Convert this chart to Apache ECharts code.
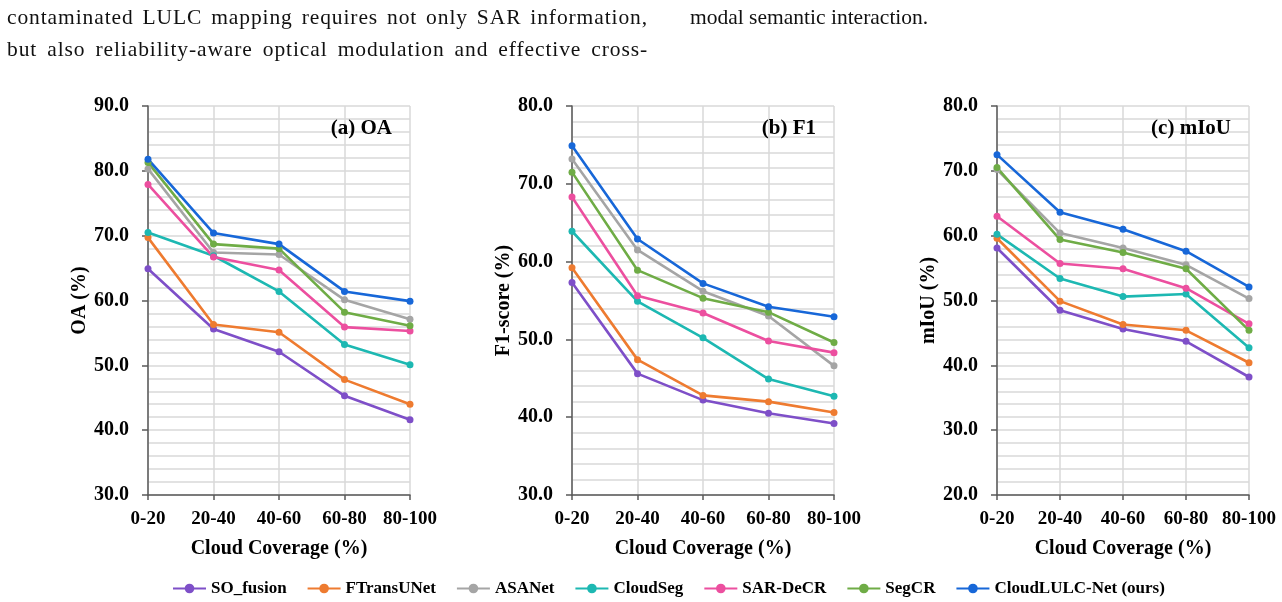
<!DOCTYPE html>
<html>
<head>
<meta charset="utf-8">
<script src="https://cdn.jsdelivr.net/npm/echarts@6/dist/echarts.min.js"></script>
<style>
  html, body { margin: 0; padding: 0; background: #fff; }
  #chart { position: absolute; left: 0; top: 0; width: 1282px; height: 602px; }
  .txt { position: absolute; font-family: "Liberation Serif", "Times New Roman", serif; font-size: 21.5px; line-height: 24px; color: #111; white-space: nowrap; z-index: 5; }
  .just { width: 641px; text-align: justify; text-align-last: justify; letter-spacing: 0.9px; }
</style>
</head>
<body>
<div id="chart"></div>
<div class="txt just" style="left:7px; top:5px;">contaminated LULC mapping requires not only SAR information,</div>
<div class="txt just" style="left:7px; top:37px;">but also reliability-aware optical modulation and effective cross-</div>
<div class="txt" style="left:690px; top:5px;">modal semantic interaction.</div>
<script>
// ---- data ----
const categories = ['0-20', '20-40', '40-60', '60-80', '80-100'];
const methods = ['SO_fusion', 'FTransUNet', 'ASANet', 'CloudSeg', 'SAR-DeCR', 'SegCR', 'CloudLULC-Net (ours)'];
const colors = ['#7E4FC8', '#EE7B30', '#A5A5A5', '#1DB8B2', '#EC4F9F', '#6FAC46', '#1767D8'];

// OA (%)
const OA_SO_fusion  = [64.9, 55.6, 52.1, 45.3, 41.6];
const OA_FTransUNet = [69.7, 56.3, 55.1, 47.8, 44.0];
const OA_ASANet     = [80.3, 67.4, 67.1, 60.1, 57.1];
const OA_CloudSeg   = [70.5, 66.9, 61.4, 53.2, 50.1];
const OA_SARDeCR    = [77.9, 66.7, 64.7, 55.9, 55.3];
const OA_SegCR      = [81.3, 68.7, 68.0, 58.2, 56.1];
const OA_CloudLULC  = [81.8, 70.4, 68.7, 61.4, 59.9];

// F1-score (%)
const F1_SO_fusion  = [57.3, 45.6, 42.2, 40.5, 39.2];
const F1_FTransUNet = [59.2, 47.4, 42.8, 42.0, 40.6];
const F1_ASANet     = [73.2, 61.5, 56.2, 53.0, 46.6];
const F1_CloudSeg   = [63.9, 54.9, 50.2, 44.9, 42.7];
const F1_SARDeCR    = [68.3, 55.6, 53.4, 49.8, 48.3];
const F1_SegCR      = [71.5, 58.9, 55.3, 53.5, 49.6];
const F1_CloudLULC  = [74.9, 62.9, 57.2, 54.2, 52.9];

// mIoU (%)
const MIOU_SO_fusion  = [58.1, 48.5, 45.6, 43.7, 38.2];
const MIOU_FTransUNet = [59.6, 49.9, 46.3, 45.4, 40.4];
const MIOU_ASANet     = [70.2, 60.4, 58.1, 55.5, 50.3];
const MIOU_CloudSeg   = [60.2, 53.4, 50.6, 51.0, 42.7];
const MIOU_SARDeCR    = [63.0, 55.7, 54.9, 51.9, 46.4];
const MIOU_SegCR      = [70.5, 59.4, 57.4, 54.9, 45.4];
const MIOU_CloudLULC  = [72.5, 63.6, 61.0, 57.6, 52.1];

const panelLabels = ['(a) OA', '(b) F1', '(c) mIoU'];
const yNames = ['OA (%)', 'F1-score (%)', 'mIoU (%)'];
const yMin = [30, 30, 20];
const yMax = [90, 80, 80];
const xName = 'Cloud Coverage (%)';

const panelData = [
  [OA_SO_fusion, OA_FTransUNet, OA_ASANet, OA_CloudSeg, OA_SARDeCR, OA_SegCR, OA_CloudLULC],
  [F1_SO_fusion, F1_FTransUNet, F1_ASANet, F1_CloudSeg, F1_SARDeCR, F1_SegCR, F1_CloudLULC],
  [MIOU_SO_fusion, MIOU_FTransUNet, MIOU_ASANet, MIOU_CloudSeg, MIOU_SARDeCR, MIOU_SegCR, MIOU_CloudLULC]
];

// ---- layout ----
const FONT = '"Liberation Serif", "Times New Roman", serif';
const grids = [
  { left: 148, top: 106, width: 262, height: 389 },
  { left: 572, top: 106, width: 262, height: 389 },
  { left: 997, top: 106, width: 252, height: 389 }
];
const gridColor = '#D9D9D9';
const axisColor = '#595959';

const xAxes = grids.map((g, i) => ({
  type: 'category', gridIndex: i, data: categories, boundaryGap: false,
  name: xName, nameLocation: 'middle', nameGap: 44,
  nameTextStyle: { fontFamily: FONT, fontWeight: 'bold', fontSize: 20, color: '#000' },
  axisLine: { show: true, lineStyle: { color: axisColor, width: 1.5 } },
  axisTick: { show: true, length: 5, lineStyle: { color: axisColor, width: 1.5 } },
  axisLabel: { fontFamily: FONT, fontWeight: 'bold', fontSize: 19, color: '#000', margin: 15, interval: 0 },
  splitLine: { show: true, lineStyle: { color: gridColor, width: 1.5 } }
}));

const yAxes = grids.map((g, i) => ({
  type: 'value', gridIndex: i, min: yMin[i], max: yMax[i], interval: 10,
  name: yNames[i], nameLocation: 'middle', nameGap: 58, nameRotate: 90,
  nameTextStyle: { fontFamily: FONT, fontWeight: 'bold', fontSize: 20, color: '#000' },
  axisLine: { show: true, lineStyle: { color: axisColor, width: 1.5 } },
  axisTick: { show: true, length: 6, lineStyle: { color: axisColor, width: 1.5 } },
  minorTick: { show: true, splitNumber: 5, length: 0 },
  minorSplitLine: { show: true, lineStyle: { color: gridColor, width: 1.5 } },
  axisLabel: { fontFamily: FONT, fontWeight: 'bold', fontSize: 20, color: '#000', margin: 19,
    formatter: v => v.toFixed(1) },
  splitLine: { show: true, lineStyle: { color: gridColor, width: 1.5 } }
}));

const series = [];
panelData.forEach((arrs, p) => {
  arrs.forEach((arr, k) => {
    series.push({
      name: methods[k], type: 'line', xAxisIndex: p, yAxisIndex: p,
      data: arr, symbol: 'circle', symbolSize: 7,
      lineStyle: { color: colors[k], width: 2.6 },
      itemStyle: { color: colors[k] },
      emphasis: { disabled: true }, animation: false
    });
  });
});

const titles = grids.map((g, i) => ({
  text: panelLabels[i],
  right: 1282 - (g.left + g.width) + 13, top: g.top + 7,
  textStyle: { fontFamily: FONT, fontWeight: 'bold', fontSize: 21, color: '#000' }
}));

const chart = echarts.init(document.getElementById('chart'), null, { renderer: 'canvas' });
chart.setOption({
  backgroundColor: '#fff',
  animation: false,
  title: titles,
  grid: grids.map(g => Object.assign({ containLabel: false }, g)),
  xAxis: xAxes,
  yAxis: yAxes,
  legend: {
    data: methods, top: 575, left: 167,
    itemWidth: 33, itemHeight: 12, itemGap: 20,
    textStyle: { fontFamily: FONT, fontWeight: 'bold', fontSize: 17, color: '#000' }
  },
  series: series
});
</script>
</body>
</html>
